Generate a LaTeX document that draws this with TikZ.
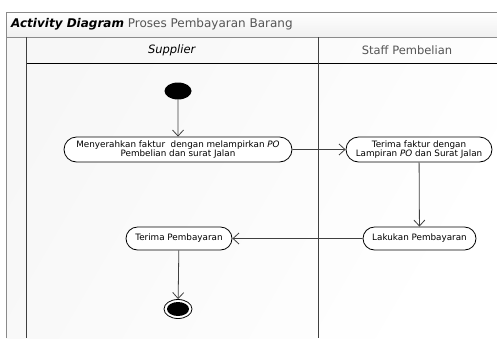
\documentclass[tikz,border=0pt]{standalone}
\usepackage{fontspec}
\setmainfont{DejaVu Sans}
\usetikzlibrary{arrows.meta,shapes.geometric,shapes.misc}
\definecolor{frameg}{HTML}{8A8A8A}
\definecolor{lineg}{HTML}{404040}
\definecolor{titleg}{HTML}{555555}
\tikzset{
  act/.style={draw=black, line width=0.8pt, rounded rectangle, fill=white, inner sep=1pt, align=center, font=\fontsize{8.8}{9.4}\selectfont},
  flow/.style={draw=lineg, line width=0.8pt, -{Straight Barb[length=6pt,width=11pt,line width=0.8pt]}},
  hdr/.style={font=\fontsize{11.5}{12}\selectfont, text=titleg}
}
\begin{document}
\begin{tikzpicture}[x=1pt,y=-1pt]
\useasboundingbox (0,0) rectangle (497,338);
\fill[white] (0,0) rectangle (497,338);
% background of lanes
\shade[left color=gray!6, right color=white, shading angle=60] (6,37) rectangle (497,338);
% title bar
\shade[top color=white, bottom color=gray!12] (6,12) rectangle (497,37);
\draw[frameg, line width=0.8pt] (497,12) -- (6,12) -- (6,338);
\draw[frameg, line width=0.8pt] (6,37) -- (497,37);
% header line, lane separators
\draw[black, line width=0.9pt] (27,63) -- (497,63);
\draw[lineg, line width=0.9pt] (26,37) -- (26,338);
\draw[lineg, line width=0.9pt] (318,37) -- (318,338);
% texts
\node[anchor=west, inner sep=0pt, font=\fontsize{12}{13}\selectfont] (title) at (11,24.5) {\textbf{\textit{Activity Diagram}} \textcolor{titleg}{Proses Pembayaran Barang}};
\node[hdr, text=black] (supplier) at (172,50) {\textit{Supplier}};
\node[hdr] (staff) at (407,50) {Staff Pembelian};
% nodes
\node[ellipse, fill=black, minimum width=27pt, minimum height=17pt, inner sep=0pt] (start) at (178,91) {};
\node[act, minimum width=230pt, minimum height=25pt] (n1) at (178,149.5) {Menyerahkan faktur\ \ dengan melampirkan \textit{PO}\\Pembelian dan surat Jalan};
\node[act, minimum width=148pt, minimum height=25pt] (n2) at (419,149.5) {Terima faktur dengan\\Lampiran \textit{PO} dan Surat Jalan};
\node[act, minimum width=115pt, minimum height=23pt] (n3) at (419.5,238.5) {Lakukan Pembayaran};
\node[act, minimum width=108pt, minimum height=23pt] (n4) at (179,238.5) {Terima Pembayaran};
\node[ellipse, draw=black, line width=0.8pt, fill=white, minimum width=28pt, minimum height=19pt, inner sep=0pt] (final) at (178,309) {};
\node[ellipse, fill=black, minimum width=22pt, minimum height=14pt, inner sep=0pt] (finalin) at (178,309) {};
% flows
\draw[flow] (start) -- (n1);
\draw[flow] (n1) -- (n2);
\draw[flow] (n2) -- (n3);
\draw[flow] (n3) -- (n4);
\draw[flow] (n4) -- (final);
\end{tikzpicture}
\end{document}
